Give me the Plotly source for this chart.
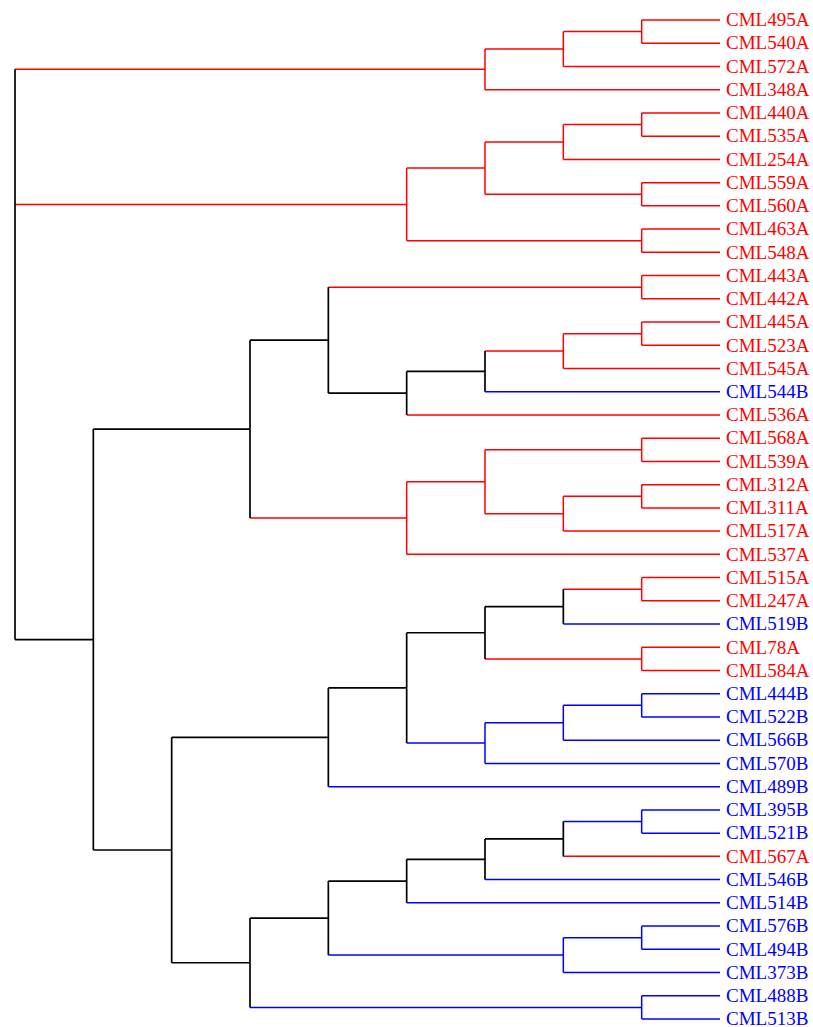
import plotly.graph_objects as go

# Cluster tree as nested lists (leaves are line names; suffix A / B gives the group)
tree = [
    [[["CML495A", "CML540A"], "CML572A"], "CML348A"],
    [[[["CML440A", "CML535A"], "CML254A"], ["CML559A", "CML560A"]], ["CML463A", "CML548A"]],
    [
        [
            [["CML443A", "CML442A"],
             [[[["CML445A", "CML523A"], "CML545A"], "CML544B"], "CML536A"]],
            [[["CML568A", "CML539A"], [["CML312A", "CML311A"], "CML517A"]], "CML537A"],
        ],
        [
            [[[[["CML515A", "CML247A"], "CML519B"], ["CML78A", "CML584A"]],
              [[["CML444B", "CML522B"], "CML566B"], "CML570B"]], "CML489B"],
            [[[[[["CML395B", "CML521B"], "CML567A"], "CML546B"], "CML514B"],
              [["CML576B", "CML494B"], "CML373B"]], ["CML488B", "CML513B"]],
        ],
    ],
]

group_colors = {"A": "#FF0000", "B": "#0000FF"}
mixed_color = "#000000"

# Leaves in drawing order (top to bottom)
leaves = []


def collect(node):
    if isinstance(node, str):
        leaves.append(node)
    else:
        for child in node:
            collect(child)


collect(tree)
leaf_index = {name: i for i, name in enumerate(leaves)}


def height(node):
    if isinstance(node, str):
        return 0
    return 1 + max(height(c) for c in node)


max_h = height(tree)

segments = {}  # colour -> (xs, ys)


def add_seg(color, x0, y0, x1, y1):
    xs, ys = segments.setdefault(color, ([], []))
    xs += [x0, x1, None]
    ys += [y0, y1, None]


def layout(node):
    """Return (x, y, colour) of a node and queue its branch segments."""
    if isinstance(node, str):
        return max_h, leaf_index[node], group_colors[node[-1]]
    kids = [layout(c) for c in node]
    x = max_h - height(node)
    ys = [k[1] for k in kids]
    y = (ys[0] + ys[-1]) / 2
    cols = {k[2] for k in kids}
    color = cols.pop() if len(cols) == 1 else mixed_color
    add_seg(color, x, min(ys), x, max(ys))
    for kx, ky, kc in kids:
        add_seg(kc, x, ky, kx, ky)
    return x, y, color


layout(tree)

px_per_x = 705 / max_h
px_per_y = 999 / (len(leaves) - 1)

fig = go.Figure()
for color, (xs, ys) in segments.items():
    fig.add_trace(go.Scatter(
        x=xs, y=ys, mode="lines",
        line=dict(color=color, width=1.7 if color == mixed_color else 1.5),
        hoverinfo="skip", showlegend=False,
    ))

# Leaf labels, set a few pixels right of the branch tips
label_gap_px = 6
label_drop_px = 1.5
fig.add_trace(go.Scatter(
    x=[max_h + label_gap_px / px_per_x] * len(leaves),
    y=[leaf_index[n] + label_drop_px / px_per_y for n in leaves],
    mode="text", text=leaves, textposition="middle right",
    textfont=dict(family="Liberation Serif, Times New Roman, serif", size=19,
                  color=[group_colors[n[-1]] for n in leaves]),
    hoverinfo="skip", showlegend=False,
))

fig.update_layout(
    width=813, height=1027,
    margin=dict(l=0, r=0, t=0, b=0),
    plot_bgcolor="white", paper_bgcolor="white",
    xaxis=dict(range=[-15 / px_per_x, (813 - 15) / px_per_x], visible=False, fixedrange=True),
    yaxis=dict(range=[(1027 - 20) / px_per_y, -20 / px_per_y], visible=False, fixedrange=True),
)

fig.write_html("out.html")
